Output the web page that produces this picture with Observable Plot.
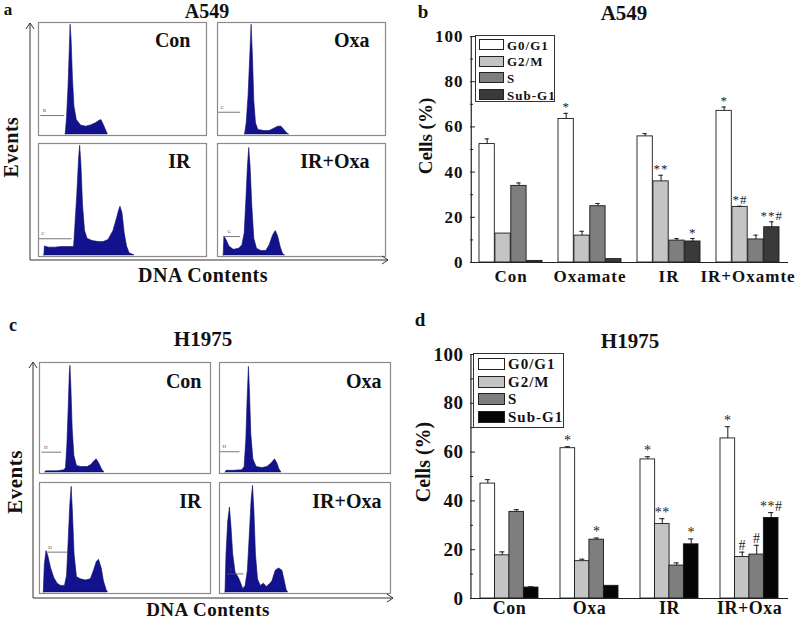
<!DOCTYPE html>
<html>
<head>
<meta charset="utf-8">
<script src="https://cdn.jsdelivr.net/npm/d3@7"></script>
<script src="https://cdn.jsdelivr.net/npm/@observablehq/plot@0.6"></script>
<style>
  body { margin: 0; background: #fff; }
  #page { position: relative; width: 797px; height: 620px; overflow: hidden;
          font-family: "Liberation Serif", "Times New Roman", serif; }
  .t { position: absolute; font-weight: bold; white-space: nowrap; color: #111; line-height: 1; }
  .pl { position: absolute; }
  .pl svg { overflow: visible; }
  .legend { position: absolute; border: 1px solid #333; background: #fff; box-sizing: border-box; }
  .legend .row { position: absolute; font-weight: bold; white-space: nowrap; color: #111; line-height: 1; }
  .legend .sw { position: absolute; border: 1px solid #222; box-sizing: border-box; }
</style>
</head>
<body>
<div id="page"></div>
<script>
// ================= DATA =================
// Flow-cytometry histograms: [DNA channel %, events % of peak]
const a549Con   = [[16.2,0],[17.0,15],[17.9,44],[18.7,80],[19.1,99],[19.7,85],[20.5,50],[21.4,25],[22.8,13],[25.3,8],[28.3,7],[31.2,8],[34.1,10],[36.1,12],[37.4,13],[39.0,8],[40.4,3],[41.3,0]];
const a549Oxa   = [[16.4,0],[17.4,10],[18.5,35],[19.5,70],[20.3,99],[21.1,70],[21.9,30],[22.9,10],[24.3,4],[28.0,3],[31.0,3],[33.7,5],[36.1,7],[38.1,7],[39.8,4],[41.4,1],[42.6,0]];
const a549IR    = [[3.5,0],[3.8,8],[6.2,7],[10.0,7],[13.8,7.5],[17.7,7.5],[21.2,7.5],[21.9,25],[23.1,55],[24.2,88],[24.8,99],[25.6,80],[26.5,45],[27.7,22],[29.2,15],[32.1,13],[36.0,12],[38.8,12],[41.7,14],[44.6,22],[46.5,32],[47.9,40],[48.8,44],[50.0,38],[51.3,20],[52.7,8],[54.2,2],[56.2,0.5],[57.1,0]];
const a549IROxa = [[3.7,0],[4.1,17],[5.3,14],[7.1,8],[9.7,5],[12.8,6],[14.8,9],[16.2,20],[17.2,50],[18.1,80],[18.9,97],[19.7,80],[20.7,45],[21.9,15],[23.5,6],[26.0,4],[29.0,4],[31.0,9],[33.1,18],[34.7,22],[36.1,17],[37.7,7],[39.1,1],[40.2,0]];
const h1975Con   = [[3.5,0],[3.9,1],[10.7,1],[14.6,2],[15.5,4],[16.3,25],[17.1,60],[17.7,90],[18.1,98],[18.6,80],[19.4,40],[20.4,15],[21.9,6],[24.3,5],[28.2,5],[30.5,7],[32.0,10],[33.4,12],[35.0,8],[36.5,3],[37.9,0]];
const h1975Oxa   = [[3.7,0],[4.1,1.5],[8.4,1.5],[13.3,2],[14.7,5],[15.7,30],[16.4,65],[17.2,97],[17.8,75],[18.6,35],[19.8,12],[21.7,5],[25.0,4],[28.0,5],[30.3,8],[32.5,12],[33.9,8],[35.0,3],[36.2,0]];
const h1975IR    = [[2.5,0],[3.1,25],[4.1,38],[5.2,33],[6.8,22],[8.7,13],[10.6,8],[12.6,6],[14.9,6],[16.1,15],[17.0,45],[18.0,80],[18.8,97],[19.5,75],[20.5,35],[21.9,14],[24.2,12],[27.1,11],[30.0,12],[31.9,20],[33.5,28],[34.8,30],[36.4,22],[37.7,10],[39.3,2],[40.0,0]];
const h1975IROxa = [[3.5,0],[4.1,35],[5.1,65],[6.1,78],[7.0,60],[8.0,35],[9.4,18],[11.4,13],[12.7,8],[13.9,3],[15.3,6],[16.6,20],[17.8,55],[18.8,85],[19.6,98],[20.4,75],[21.3,35],[22.5,12],[24.1,6],[26.0,8],[27.6,5],[29.2,7],[30.9,10],[32.9,20],[34.8,22],[36.8,20],[38.2,10],[39.3,2],[40.1,0]];
// gates: [x1, x2, height, marker letter]
const a549Gates  = [[1.4,15.6,17,"B"],[0.6,13.8,20,"C"],[0.4,20,15,"C"],[4.7,13.8,17,"G"]];
const h1975Gates = [[1.4,13,18.6,"H"],[0.6,12,19,"H"],[3.9,16.4,37,"D"],[4.5,14.3,17,"E"]];
const histNames = ["Con","Oxa","IR","IR+Oxa"];

// Bar charts
const phases = ["G0/G1","G2/M","S","Sub-G1"];
const a549Groups = ["Con","Oxamate","IR","IR+Oxamte"];
const a549G0G1 = [52.4, 63.5, 55.8, 67.1];
const a549G2M  = [12.8, 11.9, 35.9, 24.6];
const a549S    = [33.9, 24.9, 9.7, 10.2];
const a549Sub  = [0.7, 1.5, 9.3, 15.6];
const a549G0G1Err = [2.3, 2.5, 1.2, 1.7];
const a549G2MErr  = [0, 1.9, 2.7, 0.3];
const a549SErr    = [1.3, 1.2, 0.9, 1.9];
const a549SubErr  = [0, 0, 1.3, 2.4];
const a549G0G1Sig = ["", "*", "", "*"];
const a549G2MSig  = ["", "", "**", "*#"];
const a549SSig    = ["", "", "", ""];
const a549SubSig  = ["", "", "*", "**#"];

const h1975Groups = ["Con","Oxa","IR","IR+Oxa"];
const h1975G0G1 = [47.1, 61.6, 57.0, 65.6];
const h1975G2M  = [17.7, 15.3, 30.5, 17.0];
const h1975S    = [35.5, 24.1, 13.5, 18.0];
const h1975Sub  = [4.5, 5.2, 22.2, 33.0];
const h1975G0G1Err = [1.6, 0.6, 1.1, 4.8];
const h1975G2MErr  = [1.4, 0.8, 2.2, 2.0];
const h1975SErr    = [0.9, 0.7, 1.1, 3.8];
const h1975SubErr  = [0.3, 0, 2.2, 2.2];
const h1975G0G1Sig = ["", "*", "*", "*"];
const h1975G2MSig  = ["", "", "**", "#"];
const h1975SSig    = ["", "*", "", "#"];
const h1975SubSig  = ["", "", "*", "**#"];

const yMajorTicks = [0, 20, 40, 60, 80, 100];
const yMinorTicks = [10, 30, 50, 70, 90];

// ================= STYLE =================
const SERIF = '"Liberation Serif", "Times New Roman", serif';
const NAVY = "#12128c";
const colorsA549  = ["#ffffff", "#c4c4c4", "#7e7e7e", "#3a3a3a"];
const colorsH1975 = ["#ffffff", "#c4c4c4", "#7e7e7e", "#050505"];

const page = document.getElementById("page");
function label(text, cx, cy, size, rotate = false, extra = {}) {
  const d = document.createElement("div");
  d.className = "t";
  d.textContent = text;
  d.style.fontSize = size + "px";
  d.style.left = cx + "px";
  d.style.top = cy + "px";
  d.style.transform = "translate(-50%,-50%)" + (rotate ? " rotate(-90deg)" : "");
  Object.assign(d.style, extra);
  page.appendChild(d);
}
function place(node, left, top) {
  const w = document.createElement("div");
  w.className = "pl";
  w.style.left = left + "px";
  w.style.top = top + "px";
  w.appendChild(node);
  page.appendChild(w);
}

// ================= HISTOGRAM PANELS =================
function histPanel({hists, gates, left, top, width, height, mL, mR, mT, mB, padX, padY, labelDx, labelDy, axisGap}) {
  const rows = [], labs = [], gts = [];
  hists.forEach((pts, i) => {
    const col = i % 2, row = Math.floor(i / 2);
    pts.forEach(([x, y]) => rows.push({col, row, x, y}));
    labs.push({col, row, name: histNames[i]});
    const g = gates[i];
    gts.push({col, row, x1: g[0], x2: g[1], y: g[2], letter: g[3]});
  });
  const chart = Plot.plot({
    width, height, marginLeft: mL, marginRight: mR, marginTop: mT, marginBottom: mB,
    fx: {domain: [0, 1], axis: null, paddingInner: padX, paddingOuter: 0},
    fy: {domain: [0, 1], axis: null, paddingInner: padY, paddingOuter: 0},
    x: {domain: [0, 100], axis: null},
    y: {domain: [-1, 101], axis: null},
    style: {fontFamily: SERIF, background: "transparent", overflow: "visible"},
    marks: [
      Plot.areaY(rows, {x: "x", y: "y", fx: "col", fy: "row", fill: NAVY, stroke: "#0b0b6a", strokeWidth: 0.6, curve: "linear"}),
      Plot.ruleY(gts, {x1: "x1", x2: "x2", y: "y", fx: "col", fy: "row", stroke: "#555", strokeWidth: 0.8}),
      Plot.text(gts, {x: "x1", y: "y", text: "letter", fx: "col", fy: "row", dx: 2, dy: -5, fontSize: 5, fill: "#444", textAnchor: "start"}),
      Plot.frame({stroke: "#8a8a8a", strokeWidth: 1.2}),
      Plot.text(labs, {fx: "col", fy: "row", text: "name", frameAnchor: "top-right", textAnchor: "end", lineAnchor: "top",
                       dx: labelDx, dy: labelDy, fontSize: 20, fontWeight: "bold", fill: "#111"})
    ]
  });
  // outer axes with arrowheads, positioned from the plot margins
  const svg = d3.select(chart);
  const ax = mL - axisGap, ay = height - mB + 4, yTop = mT + 1, xRight = width - mR + 3;
  const g = svg.append("g").attr("fill", "none").attr("stroke", "#333").attr("stroke-width", 1);
  g.append("path").attr("d", `M${ax},${ay}V${yTop}M${ax - 4},${yTop + 6}L${ax},${yTop}L${ax + 4},${yTop + 6}`);
  g.append("path").attr("d", `M${ax},${ay}H${xRight}M${xRight - 6},${ay - 4}L${xRight},${ay}L${xRight - 6},${ay + 4}`);
  place(chart, left, top);
}

histPanel({hists: [a549Con, a549Oxa, a549IR, a549IROxa], gates: a549Gates,
  left: 0, top: 0, width: 400, height: 262, mL: 38, mR: 15, mT: 22, mB: 6, padX: 0.064, padY: 0.07,
  labelDx: -16, labelDy: 10, axisGap: 8});
histPanel({hists: [h1975Con, h1975Oxa, h1975IR, h1975IROxa], gates: h1975Gates,
  left: 0, top: 300, width: 400, height: 300, mL: 38, mR: 10, mT: 61, mB: 6, padX: 0.05, padY: 0.074,
  labelDx: -9, labelDy: 11, axisGap: 5});

// ================= BAR PANELS =================
function barPanel({groups, values, errs, sigs, colors, left, top, height, mT, mB, pI, pO, tickFont, groupFont, groupPad, spacing, starFont}) {
  const width = 397, mL = 70, mR = 9;
  const n = groups.length, k = phases.length;
  const L = width - mL - mR;
  const step = L / (n - pI + 2 * pO);
  const bandW = step * (1 - pI), bw = bandW / k, cap = 5;
  const table = [];
  phases.forEach((p, i) => groups.forEach((g, j) =>
    table.push({group: g, phase: i, value: values[i][j], err: errs[i][j], sig: sigs[i][j]})));
  const marks = [];
  phases.forEach((p, i) => {
    const d = table.filter(r => r.phase === i);
    const off = (i - (k - 1) / 2) * bw;
    marks.push(Plot.barY(d, {x: "group", y: "value", fill: colors[i], stroke: "#1a1a1a", strokeWidth: 0.9,
      insetLeft: i * bw, insetRight: (k - 1 - i) * bw}));
    const de = d.filter(r => r.err > 0);
    marks.push(Plot.ruleX(de, {x: "group", y1: "value", y2: r => r.value + r.err, dx: off, stroke: "#1a1a1a", strokeWidth: 1}));
    marks.push(Plot.tickY(de, {x: "group", y: r => r.value + r.err, stroke: "#1a1a1a", strokeWidth: 1,
      insetLeft: i * bw + bw / 2 - cap / 2, insetRight: bandW - i * bw - bw / 2 - cap / 2}));
    marks.push(Plot.text(d.filter(r => r.sig), {x: "group", y: r => r.value + r.err, text: "sig", dx: off, dy: -2,
      lineAnchor: "bottom", fontSize: starFont, fontWeight: "normal", fill: "#222"}));
  });
  marks.push(Plot.ruleY([0], {stroke: "#222", strokeWidth: 1.2}));
  marks.push(Plot.ruleX([groups[0]], {x: d => d, y1: 0, y2: 100, dx: -(pO * step + bandW / 2), stroke: "#222", strokeWidth: 1.2}));
  marks.push(Plot.axisY(yMajorTicks, {tickSize: 0, tickPadding: 7, label: null, fontSize: tickFont, fontWeight: "bold"}));
  marks.push(Plot.axisY(yMajorTicks, {tickSize: 5, dx: 5, fill: "none", label: null, stroke: "#222"}));
  marks.push(Plot.axisY(yMinorTicks, {tickSize: 3, dx: 3, fill: "none", label: null, stroke: "#222"}));
  marks.push(Plot.axisX({tickSize: 0, tickPadding: groupPad, label: null, fontSize: groupFont, fontWeight: "bold"}));
  const chart = Plot.plot({
    width, height, marginLeft: mL, marginRight: mR, marginTop: mT, marginBottom: mB,
    x: {domain: groups, paddingInner: pI, paddingOuter: pO},
    y: {domain: [0, 100]},
    style: {fontFamily: SERIF, fontWeight: "bold", background: "transparent", color: "#111", letterSpacing: spacing + "px", overflow: "visible"},
    marks
  });
  place(chart, left, top);
}

function legend({left, top, width, height, swW, swH, pitch, pad, font, colors}) {
  const box = document.createElement("div");
  box.className = "legend";
  Object.assign(box.style, {left: left + "px", top: top + "px", width: width + "px", height: height + "px"});
  phases.forEach((p, i) => {
    const sw = document.createElement("div");
    sw.className = "sw";
    Object.assign(sw.style, {left: pad + "px", top: (pad + i * pitch) + "px", width: swW + "px", height: swH + "px", background: colors[i]});
    box.appendChild(sw);
    const tx = document.createElement("div");
    tx.className = "row";
    tx.textContent = p;
    Object.assign(tx.style, {left: (pad + swW + 3) + "px", top: (pad + i * pitch + swH / 2) + "px", fontSize: font + "px",
      transform: "translateY(-50%)", letterSpacing: "1px"});
    box.appendChild(tx);
  });
  page.appendChild(box);
}

barPanel({groups: a549Groups,
  values: [a549G0G1, a549G2M, a549S, a549Sub], errs: [a549G0G1Err, a549G2MErr, a549SErr, a549SubErr],
  sigs: [a549G0G1Sig, a549G2MSig, a549SSig, a549SubSig], colors: colorsA549,
  left: 400, top: 0, height: 300, mT: 36, mB: 38, pI: 0.2, pO: 0.1, tickFont: 17, groupFont: 17, groupPad: 7, spacing: 1, starFont: 13});
barPanel({groups: h1975Groups,
  values: [h1975G0G1, h1975G2M, h1975S, h1975Sub], errs: [h1975G0G1Err, h1975G2MErr, h1975SErr, h1975SubErr],
  sigs: [h1975G0G1Sig, h1975G2MSig, h1975SSig, h1975SubSig], colors: colorsH1975,
  left: 400, top: 310, height: 310, mT: 44, mB: 22, pI: 0.28, pO: 0.12, tickFont: 19, groupFont: 18, groupPad: 3, spacing: 0.5, starFont: 14});

legend({left: 475, top: 35, width: 80, height: 67, swW: 25, swH: 11, pitch: 16.7, pad: 3, font: 13, colors: colorsA549});
legend({left: 473, top: 353, width: 91, height: 75, swW: 27, swH: 12, pitch: 17.7, pad: 4, font: 15, colors: colorsH1975});

// ================= TEXT =================
label("a", 8, 9, 17);
label("A549", 207, 11, 20);
label("Events", 11, 147, 20, true, {letterSpacing: "0.5px"});
label("DNA Contents", 203, 275, 20, false, {letterSpacing: "0.5px"});
label("c", 13, 325, 18);
label("H1975", 203, 339, 21);
label("Events", 15, 482, 21, true, {letterSpacing: "0.5px"});
label("DNA Contents", 208, 609, 19, false, {letterSpacing: "0.5px"});
label("b", 423, 11, 19);
label("A549", 624, 13, 21);
label("Cells (%)", 425, 136, 19, true);
label("d", 420, 319, 19);
label("H1975", 630, 341, 21);
label("Cells (%)", 423, 462, 20, true);
</script>
</body>
</html>
